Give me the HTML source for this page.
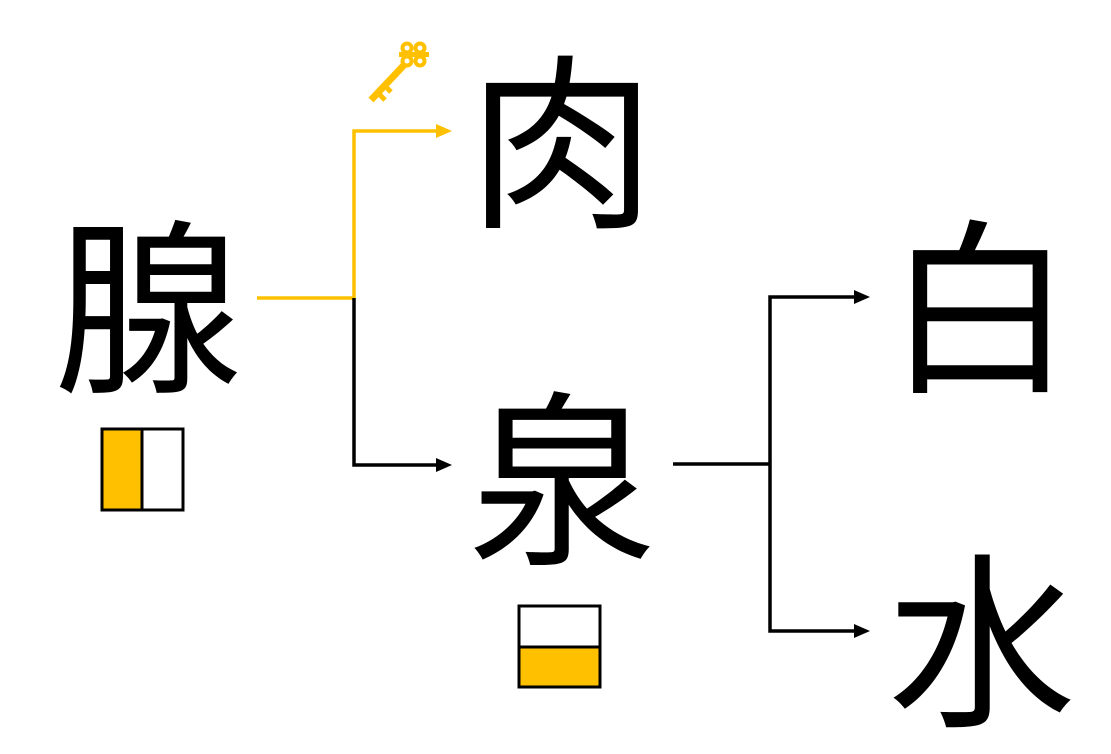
<!DOCTYPE html>
<html><head><meta charset="utf-8"><style>
html,body{margin:0;padding:0;background:#fff;}
body{width:1111px;height:754px;position:relative;overflow:hidden;}
.c{position:absolute;width:240px;height:200px;line-height:200px;text-align:center;font-size:188px;font-family:"Liberation Sans","Noto Sans CJK JP",sans-serif;color:#000;}
svg{position:absolute;left:0;top:0;}
</style></head><body>
<div class="c" style="left:28px;top:213px;">腺</div>
<div class="c" style="left:442px;top:48px;">肉</div>
<div class="c" style="left:442px;top:385px;">泉</div>
<div class="c" style="left:860px;top:213px;">白</div>
<div class="c" style="left:862px;top:547px;">水</div>
<svg width="1111" height="754" viewBox="0 0 1111 754">
<g fill="none" stroke-width="3.5">
<polyline points="257,298 354,298 354,131 440,131" stroke="#FFC000"/>
<polyline points="354,298 354,465 440,465" stroke="#000"/>
<polyline points="673,464 770,464" stroke="#000"/>
<polyline points="858,297 770,297 770,631 858,631" stroke="#000"/>
</g>
<polygon points="452,131 436,124 436,138" fill="#FFC000"/>
<polygon points="452,465 436,458 436,472" fill="#000"/>
<polygon points="870,297 854,290 854,304" fill="#000"/>
<polygon points="870,631 854,624 854,638" fill="#000"/>
<g fill="#FFC000">
<line x1="371" y1="100" x2="405" y2="64" stroke="#FFC000" stroke-width="7"/>
<line x1="377" y1="92" x2="385" y2="100" stroke="#FFC000" stroke-width="5"/>
<line x1="384" y1="85" x2="391" y2="92" stroke="#FFC000" stroke-width="5"/>
<circle cx="407" cy="48" r="6.5"/><circle cx="420" cy="48" r="6.5"/>
<circle cx="407" cy="61" r="6.5"/><circle cx="420" cy="61" r="6.5"/>
<rect x="399" y="52" width="30" height="5"/>
</g>
<g fill="#fff"><circle cx="407" cy="48" r="2.5"/><circle cx="420" cy="48" r="2.5"/><circle cx="407" cy="61" r="2.5"/><circle cx="420" cy="61" r="2.5"/></g>
<rect x="103" y="430" width="39" height="79" fill="#FFC000"/>
<rect x="102" y="429" width="81" height="81" fill="none" stroke="#000" stroke-width="3"/>
<line x1="142" y1="429" x2="142" y2="510" stroke="#000" stroke-width="3"/>
<rect x="520" y="648" width="79" height="39" fill="#FFC000"/>
<rect x="519" y="606" width="81" height="81" fill="none" stroke="#000" stroke-width="3"/>
<line x1="519" y1="647" x2="600" y2="647" stroke="#000" stroke-width="3"/>
</svg>
</body></html>
